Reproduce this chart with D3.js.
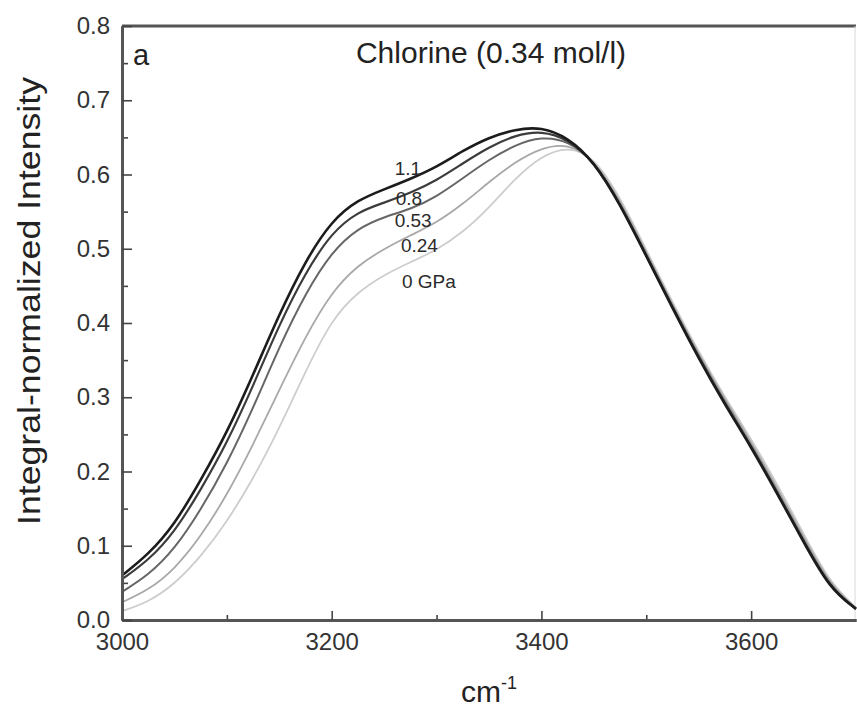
<!DOCTYPE html>
<html>
<head>
<meta charset="utf-8">
<script src="https://cdn.jsdelivr.net/npm/d3@7"></script>
<style>
  body { margin: 0; background: #fff; }
  svg { display: block; font-family: "Liberation Sans", Arial, sans-serif; }
</style>
</head>
<body>
<div id="chart"></div>
<script>
// wavenumber grid (cm-1)
const waves = [3000, 3025, 3050, 3075, 3100, 3125, 3150, 3175, 3200, 3225, 3250, 3275, 3300, 3325, 3350,
  3375, 3400, 3425, 3450, 3475, 3500, 3525, 3550, 3575, 3600, 3625, 3650, 3675, 3700];

// integral-normalized intensity, one array per pressure
const gpa11 = [0.060, 0.088, 0.128, 0.188, 0.252, 0.330, 0.412, 0.484, 0.538, 0.566, 0.580, 0.594, 0.610, 0.632, 0.650,
  0.661, 0.664, 0.650, 0.618, 0.560, 0.490, 0.420, 0.352, 0.290, 0.233, 0.170, 0.105, 0.042, 0.015];
const gpa08 = [0.055, 0.080, 0.118, 0.175, 0.238, 0.315, 0.398, 0.468, 0.522, 0.550, 0.562, 0.575, 0.592, 0.615, 0.637,
  0.653, 0.659, 0.648, 0.618, 0.561, 0.491, 0.421, 0.353, 0.291, 0.234, 0.171, 0.106, 0.043, 0.015];
const gpa053 = [0.038, 0.060, 0.095, 0.148, 0.210, 0.285, 0.368, 0.440, 0.496, 0.528, 0.543, 0.553, 0.570, 0.595, 0.620,
  0.640, 0.651, 0.646, 0.619, 0.562, 0.492, 0.422, 0.355, 0.293, 0.236, 0.173, 0.108, 0.044, 0.015];
const gpa024 = [0.024, 0.040, 0.068, 0.112, 0.168, 0.236, 0.310, 0.382, 0.442, 0.478, 0.500, 0.518, 0.535, 0.560, 0.590,
  0.617, 0.636, 0.642, 0.621, 0.566, 0.495, 0.425, 0.358, 0.297, 0.240, 0.178, 0.112, 0.047, 0.016];
const gpa0 = [0.012, 0.024, 0.048, 0.085, 0.132, 0.190, 0.258, 0.335, 0.405, 0.442, 0.465, 0.482, 0.498, 0.522, 0.555,
  0.595, 0.625, 0.638, 0.624, 0.570, 0.498, 0.428, 0.361, 0.300, 0.244, 0.183, 0.116, 0.050, 0.017];

const seriesNames = ['0 GPa', '0.24', '0.53', '0.8', '1.1'];
const seriesValues = [gpa0, gpa024, gpa053, gpa08, gpa11];
// label anchors in data units (wavenumber, intensity)
const labelWaves = [3267, 3266, 3260, 3261, 3260];
const labelLevels = [0.447, 0.496, 0.529, 0.559, 0.599];

const xTicks = [3000, 3200, 3400, 3600];
const xMinor = [3100, 3300, 3500];
const yTicks = [0, 0.1, 0.2, 0.3, 0.4, 0.5, 0.6, 0.7, 0.8];
const yMinor = [0.05, 0.15, 0.25, 0.35, 0.45, 0.55, 0.65, 0.75];

const W = 857, H = 711;
const margin = { top: 26, right: 1, bottom: 91, left: 122 };
const width = W - margin.left - margin.right;
const height = H - margin.top - margin.bottom;

const svg = d3.select('#chart').append('svg')
  .attr('width', W)
  .attr('height', H);

const g = svg.append('g')
  .attr('transform', `translate(${margin.left},${margin.top})`);

const x = d3.scaleLinear().domain([3000, 3700]).range([0, width]);
const y = d3.scaleLinear().domain([0, 0.8]).range([height, 0]);

// greys from light (low pressure) to dark (high pressure)
const colors = ['#cdcdcd', '#a8a8a8', '#666', '#3c3c3c', '#1c1c1c'];
const widths = [1.8, 1.8, 2, 2.2, 2.6];

// frame: top and faint right edge
g.append('line')
  .attr('x1', 0).attr('x2', width).attr('y1', 0).attr('y2', 0)
  .attr('stroke', '#555').attr('stroke-width', 3);
g.append('line')
  .attr('x1', width - 1).attr('x2', width - 1).attr('y1', 0).attr('y2', height)
  .attr('stroke', '#d8d8d8').attr('stroke-width', 1);

// Curves
const line = d3.line()
  .x(d => x(d[0]))
  .y(d => y(d[1]))
  .curve(d3.curveBasis);

seriesValues.forEach((vals, i) => {
  g.append('path')
    .datum(waves.map((w, j) => [w, vals[j]]))
    .attr('fill', 'none')
    .attr('stroke', colors[i])
    .attr('stroke-width', widths[i])
    .attr('d', line);
});

// Axes, ticks pointing inward
const styleAxis = sel => {
  sel.select('.domain').attr('stroke', '#555').attr('stroke-width', 3);
  sel.selectAll('.tick line').attr('stroke', '#444').attr('stroke-width', 1.6);
  sel.selectAll('.tick text').attr('fill', '#333').style('font-size', '24px');
};

g.append('g')
  .attr('transform', `translate(0,${height})`)
  .call(d3.axisBottom(x).tickValues(xMinor).tickSize(-5).tickSizeOuter(0).tickFormat(''))
  .call(styleAxis);
g.append('g')
  .attr('transform', `translate(0,${height})`)
  .call(d3.axisBottom(x).tickValues(xTicks).tickSize(-9).tickSizeOuter(0).tickPadding(13).tickFormat(d3.format('d')))
  .call(styleAxis);

g.append('g')
  .call(d3.axisLeft(y).tickValues(yMinor).tickSize(-6).tickSizeOuter(0).tickFormat(''))
  .call(styleAxis);
g.append('g')
  .call(d3.axisLeft(y).tickValues(yTicks).tickSize(-10).tickSizeOuter(0).tickPadding(12).tickFormat(d3.format('.1f')))
  .call(styleAxis);

// Curve labels
seriesNames.forEach((name, i) => {
  g.append('text')
    .attr('x', x(labelWaves[i]))
    .attr('y', y(labelLevels[i]))
    .attr('fill', '#2a2a2a')
    .style('font-size', '19px')
    .text(name);
});

// Panel letter and title
g.append('text')
  .attr('x', 11).attr('y', 39)
  .attr('fill', '#222')
  .style('font-size', '29px')
  .text('a');

g.append('text')
  .attr('x', 491 - margin.left).attr('y', 37)
  .attr('text-anchor', 'middle')
  .attr('fill', '#222')
  .style('font-size', '30px')
  .text('Chlorine (0.34 mol/l)');

// Axis titles
svg.append('text')
  .attr('transform', `translate(40,301) rotate(-90)`)
  .attr('text-anchor', 'middle')
  .attr('fill', '#222')
  .attr('textLength', 448)
  .attr('lengthAdjust', 'spacingAndGlyphs')
  .style('font-size', '31px')
  .text('Integral-normalized Intensity');

const xl = svg.append('text')
  .attr('x', 489).attr('y', 702)
  .attr('text-anchor', 'middle')
  .attr('fill', '#222')
  .style('font-size', '30px');
xl.append('tspan').text('cm');
xl.append('tspan').attr('dy', -13).style('font-size', '18px').text('-1');
</script>
</body>
</html>
